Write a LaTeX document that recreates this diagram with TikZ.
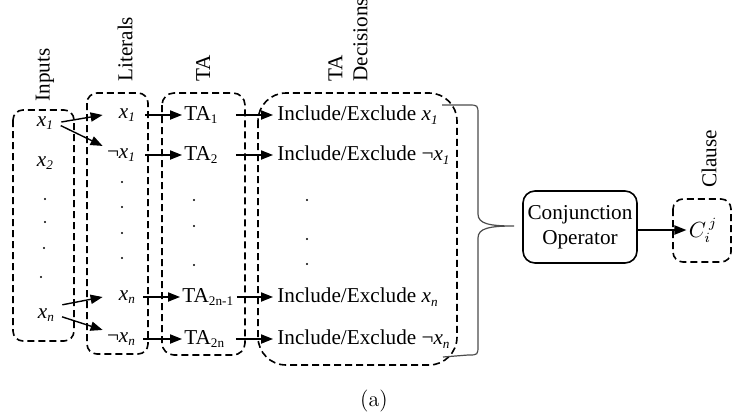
\documentclass[tikz,border=0pt]{standalone}
\usepackage{fontspec}
\newfontfamily\tnr{Liberation Serif}
\usetikzlibrary{arrows.meta}
\newcommand{\lowsub}[1]{\raisebox{-0.17em}{\fontsize{6.6}{7}\selectfont #1}}
\newcommand{\litx}[1]{\textit{x}\lowsub{\textit{#1}}}

\begin{document}
\begin{tikzpicture}[x=0.5pt,y=-0.5pt,
    font={\tnr\fontsize{10.6}{12.5}\selectfont},every node/.style={inner sep=1pt},
    box/.style={draw,dash pattern=on 3.5pt off 2pt,line width=0.8pt},
    arr/.style={-{Triangle[length=6pt,width=4.6pt]},line width=0.7pt},
    lbl/.style={rotate=90,anchor=west,inner sep=0pt},
    lit/.style={text width=15pt,align=right},
    ta/.style={text width=22pt,align=left,anchor=west},
    dec/.style={anchor=west,inner sep=2pt}]
      \useasboundingbox (0,0) rectangle (732,418);

      % dashed groups
      \draw[box,rounded corners=5pt] (13,110) rectangle (74,341);
      \draw[box,rounded corners=5pt] (87,93) rectangle (148,354);
      \draw[box,rounded corners=6pt] (162,93) rectangle (245,355);
      \draw[box,rounded corners=14pt] (258,93) rectangle (457,365);
      \draw[box,rounded corners=5pt] (673,199) rectangle (731,262);

      \node[lbl](linputs) at (45,102){Inputs};
      \node[lbl](lliterals) at (125,82){Literals};
      \node[lbl](lta) at (203,82){TA};
      \node[lbl,align=left](ldec) at (348,82){TA\\Decisions};
      \node[lbl](lclause) at (709,188){Clause};

      % inputs
      \node(in1) at (45,123){\litx{1}};
      \node(in2) at (45,163){\litx{2}};
      \node(inn) at (46,315){\litx{n}};
      \foreach \x/\y in {45/199,45/222,44/248,41/277}
        \fill (\x,\y) circle (0.6pt);

      % literals
      \node[lit](lit1) at (120,115){\litx{1}};
      \node[lit](lit2) at (120,155){¬\litx{1}};
      \node[lit](litn1) at (120,297){\litx{n}};
      \node[lit](litn2) at (120,339){¬\litx{n}};
      \foreach \y in {182,207,233,258}
        \fill (122,\y) circle (0.6pt);

      % automata
      \node[ta](ta1) at (182,115){TA\lowsub{1}};
      \node[ta](ta2) at (182,155){TA\lowsub{2}};
      \node[ta](tan1) at (180,297){TA\lowsub{2n-1}};
      \node[ta](tan2) at (182,339){TA\lowsub{2n}};
      \foreach \y in {200,226,265}
        \fill (194,\y) circle (0.6pt);

      % decisions
      \node[dec](dec1) at (273,115){Include/Exclude \litx{1}};
      \node[dec](dec2) at (273,155){Include/Exclude ¬\litx{1}};
      \node[dec](decn1) at (273,297){Include/Exclude \litx{n}};
      \node[dec](decn2) at (273,339){Include/Exclude ¬\litx{n}};
      \foreach \y in {200,239,264}
        \fill (307,\y) circle (0.6pt);

      \draw[arr,shorten <=3pt] (in1.east) -- (lit1.west);
      \draw[arr,shorten <=3pt] (in1.east) -- (lit2.north west);
      \draw[arr,shorten <=3pt] (inn.north east) -- (litn1.west);
      \draw[arr,shorten <=3pt] (inn.east) -- (litn2.north west);

      \draw[arr,shorten <=4pt] (lit1.east) -- (ta1.west);
      \draw[arr,shorten <=4pt] (lit2.east) -- (ta2.west);
      \draw[arr,shorten <=3pt] (litn1.east) -- (tan1.west);
      \draw[arr,shorten <=3pt] (litn2.east) -- (tan2.west);

      \draw[arr,shorten <=2.5pt] (ta1.east) -- (dec1.west);
      \draw[arr,shorten <=2.5pt] (ta2.east) -- (dec2.west);
      \draw[arr,shorten <=4pt] (tan1.east) -- (decn1.west);
      \draw[arr,shorten <=2.5pt] (tan2.east) -- (decn2.west);

      % brace
      \draw[gray!60!black,line width=0.6pt] (442,105) -- (468,105) .. controls (478,105) .. (478,115)
        -- (478,214) .. controls (478,224) and (490,226) .. (514,226)
        .. controls (490,226) and (478,228) .. (478,238) -- (478,345)
        .. controls (478,355) .. (468,355) -- (443,357);

      \node[draw,rounded corners=6pt,line width=0.8pt,minimum width=57pt,minimum height=36pt,align=center](conj) at (580,227){Conjunction\\Operator};
      \node(cij) at (703,230){$C^{\,j}_{i}$};
      \draw[arr] (conj.east |- cij) -- (cij.west);

      \node[font={\rmfamily\fontsize{11}{13}\selectfont}](cap) at (374,401){(a)};
    \end{tikzpicture}
\end{document}
